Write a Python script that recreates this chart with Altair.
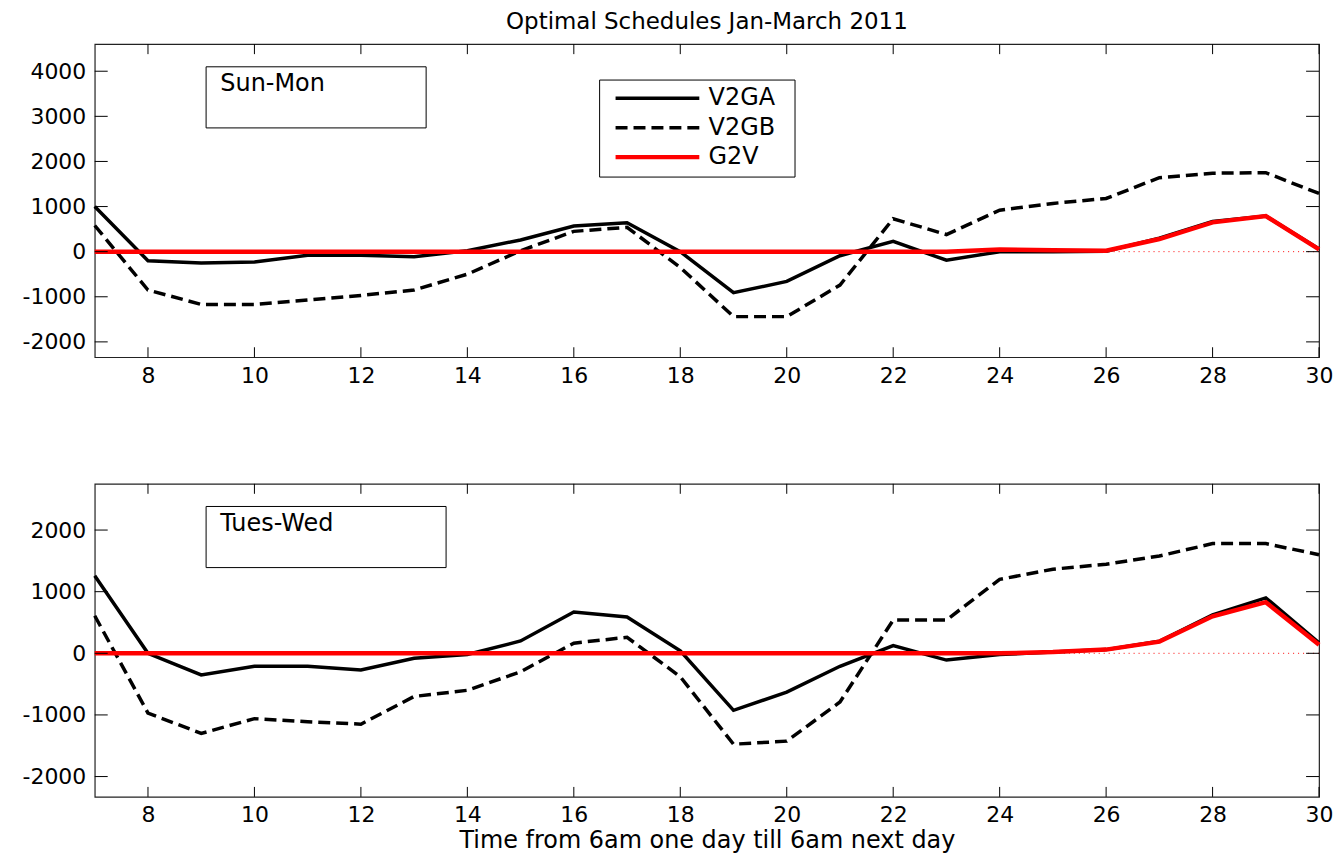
import altair as alt
import pandas as pd

# ---------------- data ----------------
hours = [7, 8, 9, 10, 11, 12, 13, 14, 15, 16, 17, 18, 19, 20, 21, 22, 23, 24, 25, 26, 27, 28, 29, 30]

sun_v2ga = [1000, -200, -250, -230, -80, -80, -110, 20, 260, 570, 640, 0, -910, -660, -90, 230, -190, 0, 0, 10, 300, 670, 790, 60]
sun_v2gb = [580, -850, -1170, -1170, -1070, -970, -850, -500, 20, 450, 540, -350, -1440, -1440, -740, 730, 380, 920, 1070, 1180, 1640, 1740, 1750, 1290]
sun_g2v = [0, 0, 0, 0, 0, 0, 0, 0, 0, 0, 0, 0, 0, 0, 0, 0, 0, 50, 30, 20, 280, 650, 790, 50]

tue_v2ga = [1260, 0, -350, -210, -210, -270, -80, -20, 200, 670, 590, 40, -925, -630, -210, 125, -110, -20, 20, 60, 195, 625, 900, 170]
tue_v2gb = [610, -970, -1300, -1060, -1110, -1150, -700, -600, -300, 165, 260, -380, -1475, -1425, -790, 540, 540, 1200, 1365, 1445, 1580, 1780, 1780, 1600]
tue_g2v = [0, 0, 0, 0, 0, 0, 0, 0, 0, 0, 0, 0, 0, 0, 0, 0, 0, 0, 20, 60, 190, 600, 830, 140]

series = ["V2GA", "V2GB", "G2V"]
panels = ["Sun-Mon", "Tues-Wed"]
x_ticks = [8, 10, 12, 14, 16, 18, 20, 22, 24, 26, 28, 30]
y_ticks_top = [-2000, -1000, 0, 1000, 2000, 3000, 4000]
y_ticks_bottom = [-2000, -1000, 0, 1000, 2000]
x_domain = [7, 30]
y_domain_top = [-2340, 4600]
y_domain_bottom = [-2330, 2750]
zero_line = [0]

title_text = "Optimal Schedules Jan-March 2011"
x_title_text = "Time from 6am one day till 6am next day"

# ---------------- styling ----------------
FONT = "DejaVu Sans"
W, H = 1228, 314
RED = "#ff0000"


def make_panel(v2ga, v2gb, g2v, ydom, yticks, label, box_x2, legend, xtitle, title=None):
    df = pd.DataFrame({"hour": hours, "V2GA": v2ga, "V2GB": v2gb, "G2V": g2v})
    xscale = alt.Scale(domain=x_domain, nice=False, zero=False)
    yscale = alt.Scale(domain=ydom, nice=False, zero=False)
    xaxis = alt.Axis(values=x_ticks, ticks=False, domain=False, grid=False,
                     labelFont=FONT, labelFontSize=22, labelColor="black",
                     labelPadding=8, labelFlush=False, labelOverlap=False,
                     titleFont=FONT, titleFontSize=24,
                     titleFontWeight="normal", titleColor="black", titlePadding=3)
    yaxis = alt.Axis(values=yticks, ticks=False, domain=False, grid=False,
                     labelFont=FONT, labelFontSize=22, labelColor="black",
                     labelPadding=9, labelExpr="datum.value + ''",
                     labelFlush=False, labelOverlap=False)

    def X(field):
        if xtitle:
            return alt.X(field, scale=xscale, axis=xaxis, title=x_title_text)
        return alt.X(field, scale=xscale, axis=xaxis, title=None)

    def Y(field):
        return alt.Y(field, scale=yscale, axis=yaxis, title=None)

    zdf = pd.DataFrame({"hour": [x_domain[0]], "z": zero_line})
    zero_rule = alt.Chart(zdf).mark_rule(color=RED, strokeWidth=1, strokeDash=[1, 4]).encode(
        y=Y("z:Q"))

    l_b = alt.Chart(df).mark_line(color="black", strokeWidth=3.5, strokeDash=[12, 6]).encode(
        x=X("hour:Q"), y=Y("V2GB:Q"))
    l_a = alt.Chart(df).mark_line(color="black", strokeWidth=3.5).encode(
        x=X("hour:Q"), y=Y("V2GA:Q"))
    l_g = alt.Chart(df).mark_line(color=RED, strokeWidth=4.5).encode(
        x=X("hour:Q"), y=Y("G2V:Q"))

    xt = pd.DataFrame({"t": x_ticks})
    yt = pd.DataFrame({"t": yticks})
    tick_b = alt.Chart(xt).mark_rule(color="black", strokeWidth=1).encode(
        x=X("t:Q"), y=alt.value(H), y2=alt.value(H - 10))
    tick_t = alt.Chart(xt).mark_rule(color="black", strokeWidth=1).encode(
        x=X("t:Q"), y=alt.value(0), y2=alt.value(10))
    tick_l = alt.Chart(yt).mark_rule(color="black", strokeWidth=1).encode(
        y=Y("t:Q"), x=alt.value(0), x2=alt.value(13))
    tick_r = alt.Chart(yt).mark_rule(color="black", strokeWidth=1).encode(
        y=Y("t:Q"), x=alt.value(W), x2=alt.value(W - 13))

    ldf = pd.DataFrame({"label": [label]})
    box = alt.Chart(ldf).mark_rect(fill="white", stroke="black", strokeWidth=1).encode(
        x=alt.value(111.7), x2=alt.value(box_x2), y=alt.value(22.7), y2=alt.value(84))
    box_text = alt.Chart(ldf).mark_text(align="left", baseline="middle", font=FONT,
                                        fontSize=24, color="black").encode(
        x=alt.value(126), y=alt.value(40), text="label:N")

    layers = [zero_rule, l_b, l_a, l_g, tick_b, tick_t, tick_l, tick_r, box, box_text]

    if legend:
        lbox = alt.Chart(ldf).mark_rect(fill="white", stroke="black", strokeWidth=1).encode(
            x=alt.value(506.4), x2=alt.value(702.4), y=alt.value(36), y2=alt.value(133.3))
        layers.append(lbox)
        styles = {"V2GA": dict(color="black", strokeWidth=3.5),
                  "V2GB": dict(color="black", strokeWidth=3.5, strokeDash=[12, 6]),
                  "G2V": dict(color=RED, strokeWidth=4.5)}
        for i, s in enumerate(series):
            sdf = pd.DataFrame({"s": [s]})
            yy = 54.3 + 29.5 * i
            layers.append(alt.Chart(sdf).mark_rule(**styles[s]).encode(
                x=alt.value(522.4), x2=alt.value(606.4), y=alt.value(yy)))
            layers.append(alt.Chart(sdf).mark_text(align="left", baseline="middle", font=FONT,
                                                   fontSize=24, color="black").encode(
                x=alt.value(615.7), y=alt.value(yy), text="s:N"))

    ch = alt.layer(*layers).properties(width=W, height=H)
    if title:
        ch = ch.properties(title=alt.TitleParams(title, font=FONT, fontSize=23,
                                                 fontWeight="normal", color="black",
                                                 anchor="middle", offset=7, dy=-3))
    return ch


top = make_panel(sun_v2ga, sun_v2gb, sun_g2v, y_domain_top, y_ticks_top, panels[0], 332.4,
                 True, False, title=title_text)
bottom = make_panel(tue_v2ga, tue_v2gb, tue_g2v, y_domain_bottom, y_ticks_bottom, panels[1], 352.4,
                    False, True)

chart = alt.vconcat(top, bottom, spacing=95).properties(
    padding={"left": 13, "top": 0, "right": 0, "bottom": 0},
    background="white",
).configure_view(stroke="#222222", strokeWidth=1.2)

chart.save("out.html", embed_options={"renderer": "svg", "actions": False})
